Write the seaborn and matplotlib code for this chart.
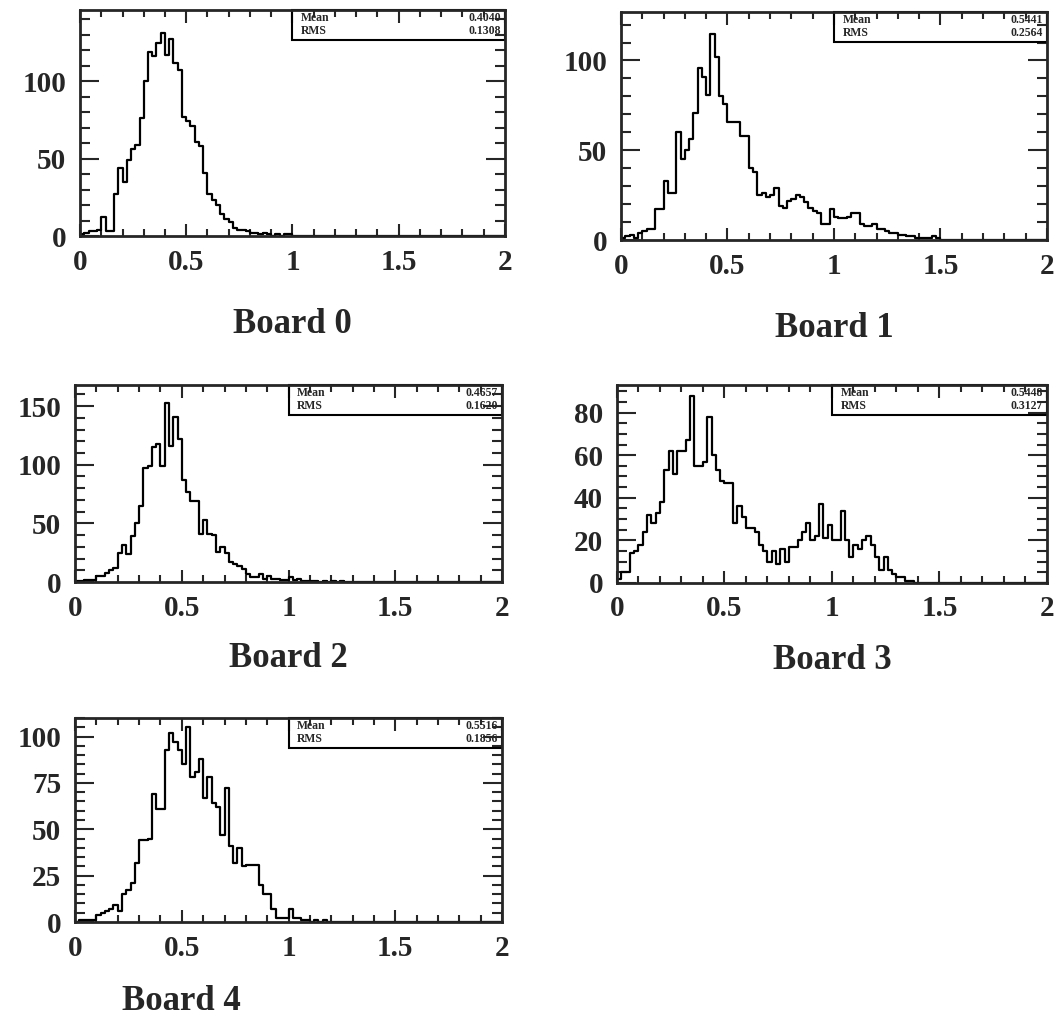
import numpy as np
import pandas as pd
import matplotlib
matplotlib.use("Agg")
import matplotlib.pyplot as plt
from matplotlib.patches import Rectangle
from matplotlib.ticker import MultipleLocator, FuncFormatter
import seaborn as sns

# 100 bins of 0.02 from 0 to 2
centers = np.arange(100) * 0.02 + 0.01

board0 = [1, 2, 3, 3, 4, 12, 3, 3, 27, 44,
          35, 49, 56, 59, 76, 100, 119, 116, 125, 131,
          117, 127, 112, 107, 77, 74, 71, 61, 58, 41,
          27, 23, 20, 14, 11, 9, 5, 4, 4, 3,
          2, 2, 1, 2, 1, 0, 1, 0, 1, 1,
          0, 0, 0, 0, 0, 0, 0, 0, 0, 0,
          0, 0, 0, 0, 0, 0, 0, 0, 0, 0,
          0, 0, 0, 0, 0, 0, 0, 0, 0, 0,
          0, 0, 0, 0, 0, 0, 0, 0, 0, 0,
          0, 0, 0, 0, 0, 0, 0, 0, 0, 0]
board1 = [1, 2, 3, 1, 4, 5, 6, 6, 17, 17,
          33, 26, 26, 60, 45, 50, 56, 71, 96, 91,
          81, 115, 102, 80, 76, 66, 66, 66, 58, 58,
          40, 38, 25, 26, 24, 25, 29, 19, 18, 22,
          23, 25, 24, 21, 18, 16, 15, 9, 9, 17,
          13, 12, 12, 13, 15, 15, 9, 8, 8, 9,
          6, 6, 5, 4, 4, 3, 3, 2, 2, 1,
          1, 1, 1, 2, 1, 0, 0, 0, 0, 0,
          0, 0, 0, 0, 0, 0, 0, 0, 0, 0,
          0, 0, 0, 0, 0, 0, 0, 0, 0, 0]
board2 = [1, 1, 2, 2, 2, 5, 5, 8, 10, 12,
          25, 32, 24, 39, 50, 65, 97, 99, 115, 118,
          99, 153, 116, 141, 122, 87, 77, 69, 69, 41,
          53, 41, 40, 26, 30, 25, 17, 15, 14, 11,
          7, 4, 4, 7, 3, 5, 3, 3, 2, 2,
          4, 2, 3, 1, 1, 1, 1, 0, 1, 0,
          1, 0, 1, 0, 0, 0, 0, 0, 0, 0,
          0, 0, 0, 0, 0, 0, 0, 0, 0, 0,
          0, 0, 0, 0, 0, 0, 0, 0, 0, 0,
          0, 0, 0, 0, 0, 0, 0, 0, 0, 0]
board3 = [2, 5, 5, 14, 15, 18, 24, 32, 28, 33,
          38, 53, 62, 51, 62, 62, 67, 88, 55, 55,
          57, 78, 60, 53, 48, 47, 47, 28, 36, 31,
          26, 26, 24, 18, 15, 10, 15, 9, 16, 10,
          17, 17, 20, 24, 28, 20, 22, 37, 21, 27,
          20, 20, 34, 20, 12, 18, 16, 20, 22, 18,
          12, 6, 12, 6, 4, 3, 3, 1, 1, 0,
          0, 0, 0, 0, 0, 0, 0, 0, 0, 0,
          0, 0, 0, 0, 0, 0, 0, 0, 0, 0,
          0, 0, 0, 0, 0, 0, 0, 0, 0, 0]
board4 = [0, 1, 1, 1, 1, 4, 5, 6, 7, 9,
          6, 15, 17, 21, 32, 44, 44, 45, 69, 61,
          61, 93, 102, 97, 93, 85, 105, 78, 81, 88,
          67, 78, 64, 62, 47, 72, 41, 32, 40, 30,
          31, 31, 31, 20, 15, 15, 7, 2, 2, 2,
          7, 2, 2, 1, 1, 0, 1, 0, 1, 0,
          0, 0, 0, 0, 0, 0, 0, 0, 0, 0,
          0, 0, 0, 0, 0, 0, 0, 0, 0, 0,
          0, 0, 0, 0, 0, 0, 0, 0, 0, 0,
          0, 0, 0, 0, 0, 0, 0, 0, 0, 0]

counts = [board0, board1, board2, board3, board4]
titles = ["Board 0", "Board 1", "Board 2", "Board 3", "Board 4"]
means = ["0.4040", "0.5441", "0.4657", "0.5448", "0.5516"]
rmss = ["0.1308", "0.2564", "0.1620", "0.3127", "0.1856"]

sns.set_style("ticks")
plt.rcParams["font.family"] = ["Liberation Serif", "DejaVu Serif"]
plt.rcParams["font.weight"] = "bold"

W, H = 1057, 1024
fig = plt.figure(figsize=(W / 100, H / 100), dpi=100)

# [left, bottom, width, height], y top, major/minor y step, title x
panels = [
    ([0.0757, 0.7695, 0.402, 0.2207], 146, 50, 10, 0.5),
    ([0.5875, 0.7656, 0.403, 0.2227], 127, 50, 10, 0.5),
    ([0.0710, 0.4316, 0.404, 0.1924], 168, 50, 10, 0.5),
    ([0.5837, 0.4307, 0.4068, 0.1934], 93, 20, 5, 0.5),
    ([0.0710, 0.0996, 0.404, 0.1992], 110, 25, 5, 0.25),
]

for i, (rect, ytop, ymaj, ymin_, tx) in enumerate(panels):
    ax = fig.add_axes(rect)
    df = pd.DataFrame({"x": centers, "n": counts[i]})
    sns.histplot(data=df, x="x", weights="n", bins=100, binrange=(0, 2),
                 element="step", fill=False, color="black", linewidth=1.6, ax=ax)
    ax.set_xlim(0, 2)
    ax.set_ylim(0, ytop)
    ax.set_xlabel("")
    ax.set_ylabel("")
    ax.xaxis.set_major_locator(MultipleLocator(0.5))
    ax.xaxis.set_minor_locator(MultipleLocator(0.1))
    ax.yaxis.set_major_locator(MultipleLocator(ymaj))
    ax.yaxis.set_minor_locator(MultipleLocator(ymin_))
    ax.xaxis.set_major_formatter(FuncFormatter(lambda v, p: f"{v:g}"))
    ax.tick_params(which="both", direction="in", top=True, right=True, width=1.5)
    ax.tick_params(axis="x", which="major", length=9, labelsize=21, pad=9)
    ax.tick_params(axis="x", which="minor", length=5)
    ax.tick_params(axis="y", which="major", length=14, labelsize=21, pad=10)
    ax.tick_params(axis="y", which="minor", length=7)
    for s in ax.spines.values():
        s.set_linewidth(2)
    # stats box, sized in pixels
    hpx = rect[3] * H
    bh = 30 / hpx
    ax.add_patch(Rectangle((0.5, 1 - bh), 0.5, bh, transform=ax.transAxes,
                           fill=False, edgecolor="black", linewidth=1.5, clip_on=False))
    y1 = 1 - 8 / hpx
    y2 = 1 - 21 / hpx
    ax.text(0.52, y1, "Mean", transform=ax.transAxes, fontsize=8.5, va="center")
    ax.text(0.99, y1, means[i], transform=ax.transAxes, fontsize=8.5, va="center", ha="right")
    ax.text(0.52, y2, "RMS", transform=ax.transAxes, fontsize=8.5, va="center")
    ax.text(0.99, y2, rmss[i], transform=ax.transAxes, fontsize=8.5, va="center", ha="right")
    ax.text(tx, -0.39, titles[i], transform=ax.transAxes, fontsize=25,
            ha="center", va="center")

fig.savefig("out.png", dpi=100)
